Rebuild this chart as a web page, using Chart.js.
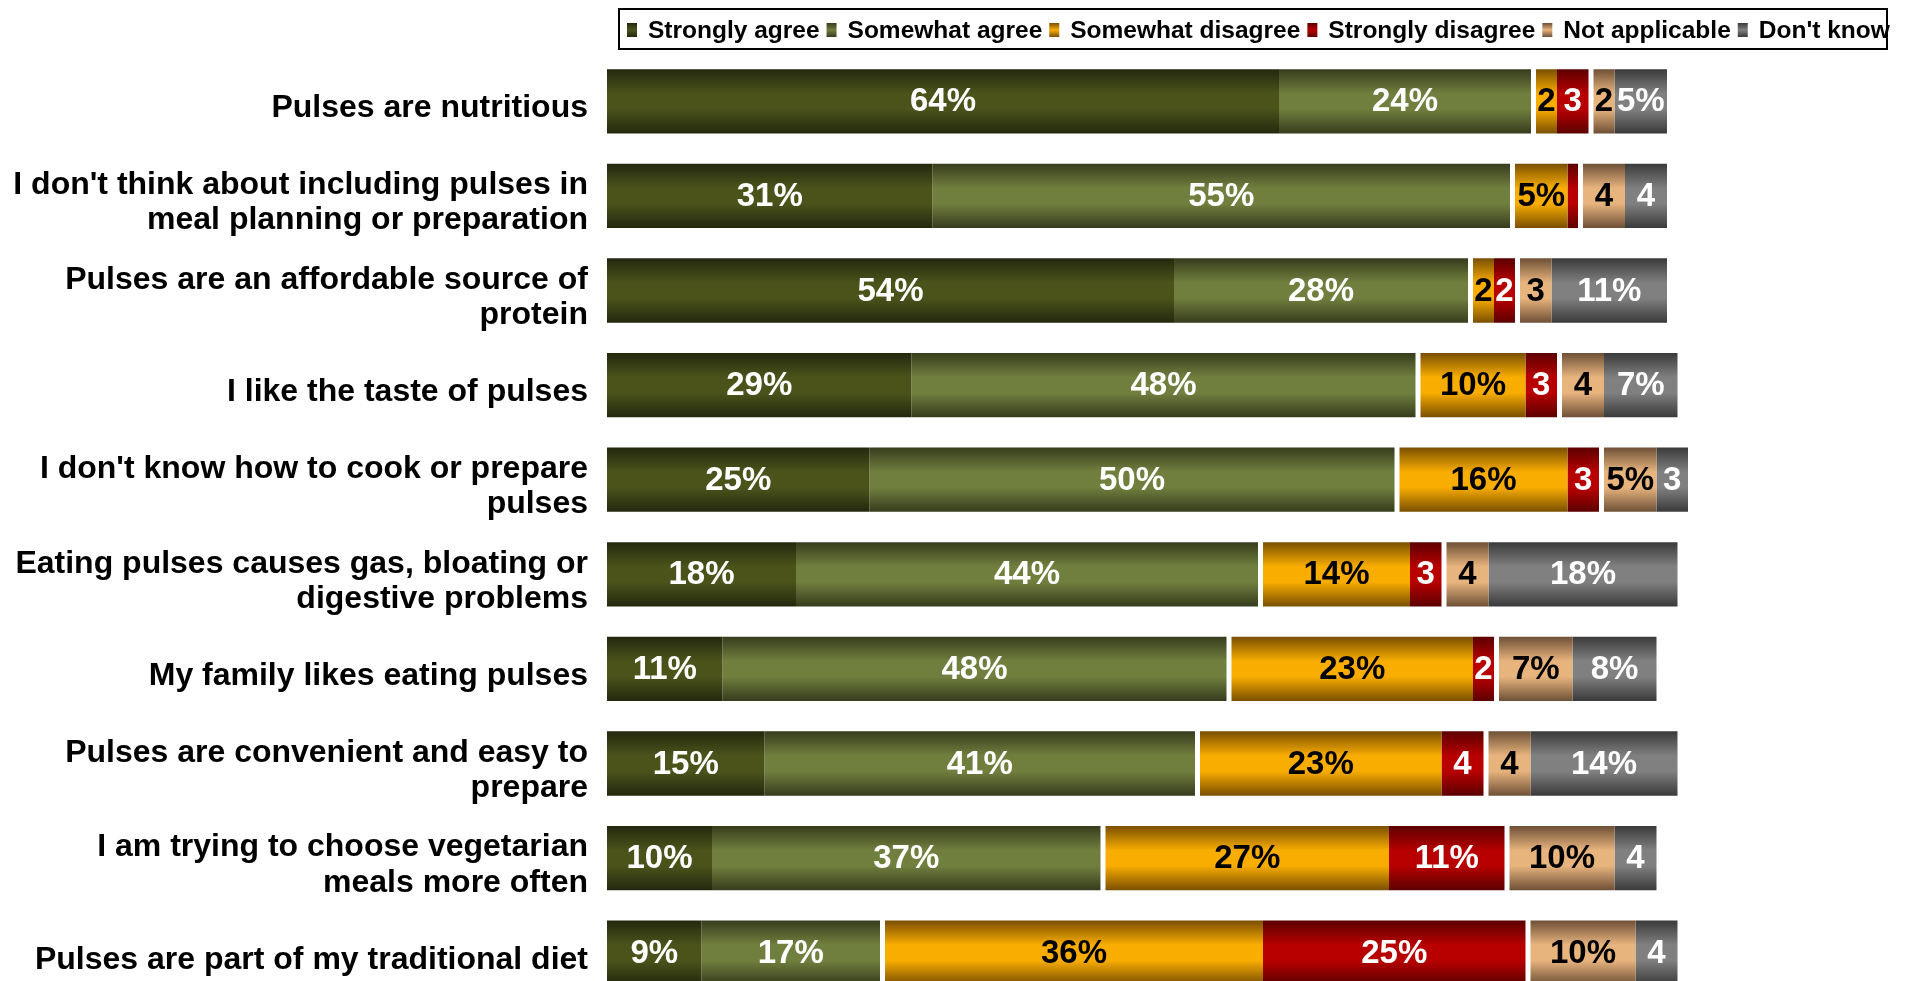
<!DOCTYPE html>
<html>
<head>
<meta charset="utf-8">
<title>Attitudes towards pulses</title>
<script src="https://cdn.jsdelivr.net/npm/chart.js@4/dist/chart.umd.min.js"></script>
<style>
  html, body { margin: 0; padding: 0; background: #fff; overflow: hidden; }
  #wrap { width: 1910px; height: 1000px; }
</style>
</head>
<body>
<div id="wrap"><canvas id="pulsesChart" width="1910" height="1000"></canvas></div>
<script>
// Survey statements, top to bottom
const statements = [
    'Pulses are nutritious',
    ["I don't think about including pulses in", 'meal planning or preparation'],
    ['Pulses are an affordable source of', 'protein'],
    'I like the taste of pulses',
    ["I don't know how to cook or prepare", 'pulses'],
    ['Eating pulses causes gas, bloating or', 'digestive problems'],
    'My family likes eating pulses',
    ['Pulses are convenient and easy to', 'prepare'],
    ['I am trying to choose vegetarian', 'meals more often'],
    'Pulses are part of my traditional diet'
];

const seriesNames = ['Strongly agree', 'Somewhat agree', 'Somewhat disagree', 'Strongly disagree', 'Not applicable', "Don't know"];

// Percent of respondents per answer
const stronglyAgree    = [64, 31, 54, 29, 25, 18, 11, 15, 10, 9];
const somewhatAgree    = [24, 55, 28, 48, 50, 44, 48, 41, 37, 17];
const somewhatDisagree = [2, 5, 2, 10, 16, 14, 23, 23, 27, 36];
const stronglyDisagree = [3, 1, 2, 3, 3, 3, 2, 4, 11, 25];
const notApplicable    = [2, 4, 3, 4, 5, 4, 7, 4, 10, 10];
const dontKnow         = [5, 4, 11, 7, 3, 18, 8, 14, 4, 4];

const FONT = "'Liberation Sans', Arial, Helvetica, sans-serif";
const BAR_PERCENT = 0.68;
const GAP = 5;          // white space between agree / disagree / other blocks

// edge colour, centre colour, label colour, block index
const styles = [
    { edge: '#23280e', mid: '#4b531b', text: '#fff', group: 0 },
    { edge: '#363c1d', mid: '#717f3e', text: '#fff', group: 0 },
    { edge: '#7a4f00', mid: '#f9ad00', text: '#000', group: 1 },
    { edge: '#5c0000', mid: '#b80000', text: '#fff', group: 1 },
    { edge: '#6e5036', mid: '#e8b47e', text: '#000', group: 2 },
    { edge: '#3a3a3a', mid: '#808080', text: '#fff', group: 2 }
];

const seriesValues = [stronglyAgree, somewhatAgree, somewhatDisagree, stronglyDisagree, notApplicable, dontKnow];

function barGradient(style) {
    return (ctx) => {
        const chart = ctx.chart;
        const yScale = chart.scales.y;
        if (!yScale || ctx.dataIndex === undefined) return style.mid;
        const band = (yScale.bottom - yScale.top) / statements.length;
        const h = band * BAR_PERCENT;
        const yc = yScale.getPixelForValue(ctx.dataIndex);
        if (!isFinite(yc) || !isFinite(h) || h <= 0) return style.mid;
        const g = chart.ctx.createLinearGradient(0, yc - h / 2, 0, yc + h / 2);
        g.addColorStop(0, style.edge);
        g.addColorStop(0.38, style.mid);
        g.addColorStop(0.62, style.mid);
        g.addColorStop(1, style.edge);
        return g;
    };
}

// push the disagree and "other" blocks right so the three groups sit apart
const groupGap = {
    id: 'groupGap',
    afterDatasetsUpdate(chart) {
        chart.data.datasets.forEach((ds, i) => {
            const shift = styles[i].group * GAP;
            chart.getDatasetMeta(i).data.forEach(bar => {
                bar.x += shift;
                bar.base += shift;
            });
        });
    }
};

// value text inside each segment: "n%" for 5 and up, bare number for 2-4
const segmentLabels = {
    id: 'segmentLabels',
    afterDatasetsDraw(chart) {
        const ctx = chart.ctx;
        ctx.save();
        ctx.font = `bold 33px ${FONT}`;
        ctx.textAlign = 'center';
        ctx.textBaseline = 'middle';
        chart.data.datasets.forEach((ds, i) => {
            ctx.fillStyle = styles[i].text;
            chart.getDatasetMeta(i).data.forEach((bar, j) => {
                const v = ds.data[j];
                if (v < 2) return;
                const txt = v >= 5 ? v + '%' : String(v);
                ctx.fillText(txt, (bar.x + bar.base) / 2, bar.y + 1);
            });
        });
        ctx.restore();
    }
};

// boxed legend across the top right
const boxLegend = {
    id: 'boxLegend',
    afterDraw(chart) {
        const ctx = chart.ctx;
        ctx.save();
        ctx.font = `bold 24.5px ${FONT}`;
        ctx.textBaseline = 'middle';
        ctx.lineWidth = 2;
        ctx.strokeStyle = '#000';
        ctx.strokeRect(619, 9, 1268, 40);
        let x = 627;
        const yc = 30;
        chart.data.datasets.forEach((ds, i) => {
            const g = ctx.createLinearGradient(0, yc - 7, 0, yc + 7);
            g.addColorStop(0, styles[i].edge);
            g.addColorStop(0.5, styles[i].mid);
            g.addColorStop(1, styles[i].edge);
            ctx.fillStyle = g;
            ctx.fillRect(x, yc - 7, 10, 14);
            ctx.fillStyle = '#000';
            ctx.fillText(ds.label, x + 21, yc + 1);
            x += 21 + ctx.measureText(ds.label).width + 7;
        });
        ctx.restore();
    }
};

new Chart(document.getElementById('pulsesChart'), {
    type: 'bar',
    data: {
        labels: statements,
        datasets: seriesNames.map((name, i) => ({
            label: name,
            data: seriesValues[i],
            backgroundColor: barGradient(styles[i]),
            borderWidth: 0,
            barPercentage: BAR_PERCENT,
            categoryPercentage: 1
        }))
    },
    options: {
        indexAxis: 'y',
        responsive: false,
        animation: false,
        devicePixelRatio: 1,
        layout: { padding: { top: 54, right: 1, bottom: 0, left: 0 } },
        scales: {
            x: {
                stacked: true,
                display: false,
                min: 0,
                max: 124
            },
            y: {
                stacked: true,
                grid: { display: false },
                border: { display: false },
                afterFit(scale) {
                    scale.width = 607;
                    scale.paddingTop = 0;
                    scale.paddingBottom = 0;
                },
                ticks: {
                    autoSkip: false,
                    padding: 11,
                    labelOffset: 7,
                    color: '#000',
                    font: { family: FONT, size: 32, weight: 'bold', lineHeight: 1.1 }
                }
            }
        },
        plugins: {
            legend: { display: false },
            tooltip: { enabled: false }
        }
    },
    plugins: [groupGap, segmentLabels, boxLegend]
});
</script>
</body>
</html>
